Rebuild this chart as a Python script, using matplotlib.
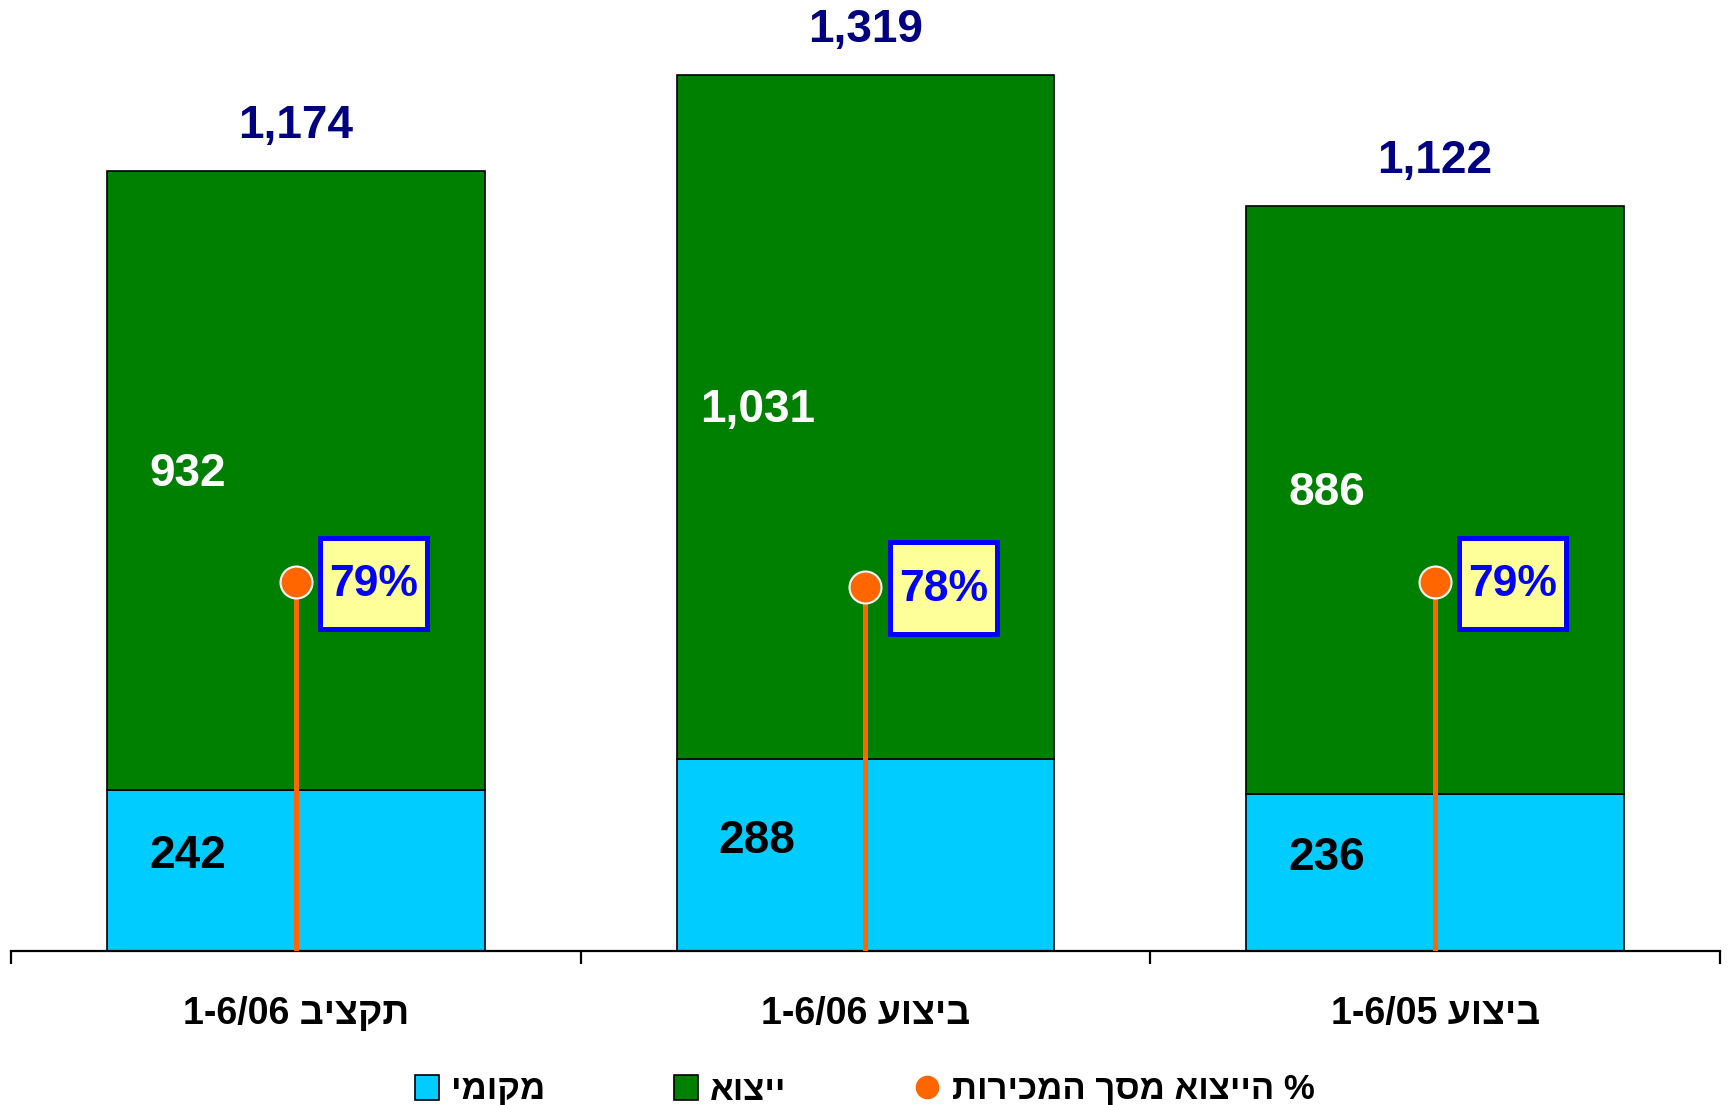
import matplotlib
matplotlib.use("Agg")
import matplotlib.pyplot as plt
from matplotlib.patches import Patch, Rectangle
from matplotlib.lines import Line2D
from matplotlib import transforms

plt.rcParams['font.family'] = ['Liberation Sans', 'DejaVu Sans']
plt.rcParams['font.weight'] = 'bold'

# ---- data ----
categories = ["תקציב 1-6/06", "ביצוע 1-6/06", "ביצוע 1-6/05"]
local_vals = [242, 288, 236]
export_vals = [932, 1031, 886]
totals = [1174, 1319, 1122]
export_share = [0.79, 0.78, 0.79]
legend_labels = ["מקומי", "ייצוא", "% הייצוא מסך המכירות"]

C_LOCAL = "#00CCFF"
C_EXPORT = "#008000"
C_TOTAL = "#000080"
C_DOT = "#FF6600"


def visual(s):
    """Convert logical RTL text to visual (left-to-right) order."""
    words = s.split(" ")[::-1]
    out = []
    for w in words:
        if any('\u0590' <= ch <= '\u05FF' for ch in w):
            out.append(w[::-1])
        else:
            out.append(w)
    return " ".join(out)


W, H = 1729, 1105
fig = plt.figure(figsize=(W / 100, H / 100), dpi=100)
base_px = 950.5
ax = fig.add_axes([11 / W, 1 - base_px / H, (1720 - 11) / W, base_px / H])
ax.set_xlim(-0.5, 2.5)
ax.set_ylim(0, base_px / 0.6636)

x = list(range(len(categories)))
bw = 0.663
ax.bar(x, local_vals, bw, color=C_LOCAL, edgecolor="black", linewidth=1.2, zorder=2)
ax.bar(x, export_vals, bw, bottom=local_vals, color=C_EXPORT, edgecolor="black",
       linewidth=1.2, zorder=2)

for i in x:
    ax.annotate(f"{local_vals[i]:,}", (i - 0.19, local_vals[i] / 2), xytext=(0, 10),
                textcoords="offset points", color="black", fontsize=33, fontweight="bold",
                ha="center", va="center", zorder=3)
    ax.annotate(f"{export_vals[i]:,}", (i - 0.19, local_vals[i] + export_vals[i] / 2),
                xytext=(0, 5), textcoords="offset points", color="white", fontsize=33,
                fontweight="bold", ha="center", va="center", zorder=3)
    ax.annotate(f"{totals[i]:,}", (i, totals[i]), xytext=(0, 24), textcoords="offset points",
                color=C_TOTAL, fontsize=33, fontweight="bold", ha="center", va="baseline")

for s in ["top", "left", "right"]:
    ax.spines[s].set_visible(False)
ax.spines["bottom"].set_linewidth(1.6)
ax.set_yticks([])
ax.set_xticks(x)
ax.set_xticklabels([visual(c) for c in categories], fontsize=27, fontweight="bold")
ax.tick_params(axis="x", which="major", length=0, pad=33)
ax.set_xticks([-0.5, 0.5, 1.5, 2.5], minor=True)
ax.tick_params(axis="x", which="minor", length=9, width=1.6, direction="out")

# secondary axis for export share
ax2 = ax.twinx()
ax2.set_ylim(0, base_px / 466.5)
ax2.set_yticks([])
for s in ["top", "left", "right", "bottom"]:
    ax2.spines[s].set_visible(False)
ax2.vlines(x, 0, export_share, color=C_DOT, linewidth=3.6, zorder=3)
ax2.plot(x, export_share, linestyle="none", marker="o", markersize=23,
         markerfacecolor=C_DOT, markeredgecolor="white", markeredgewidth=1.5, zorder=4)

pt = transforms.Affine2D().scale(fig.dpi / 72.0)
for i in x:
    tr = pt + transforms.ScaledTranslation(i, export_share[i], ax2.transData)
    bx_w, bx_h = 77, 66
    cx, cy = 56, -1
    ax2.add_patch(Rectangle((cx - bx_w / 2, cy - bx_h / 2), bx_w, bx_h, transform=tr,
                            facecolor="#FFFF99", edgecolor="#0000FF", linewidth=3.6,
                            zorder=5, clip_on=False))
    ax2.annotate(f"{round(export_share[i] * 100)}%", (i, export_share[i]),
                 xytext=(cx, cy - 1), textcoords="offset points", ha="center", va="center",
                 color="#0000FF", fontsize=32, fontweight="bold", zorder=6)

handles = [
    Patch(facecolor=C_LOCAL, edgecolor="black", linewidth=1.2),
    Patch(facecolor=C_EXPORT, edgecolor="black", linewidth=1.2),
    Line2D([], [], linestyle="none", marker="o", markersize=16, markerfacecolor=C_DOT,
           markeredgecolor=C_DOT),
]
fig.legend(handles, [visual(l) for l in legend_labels], loc="center",
           bbox_to_anchor=(0.5, 1 - 1090 / H), ncol=3, frameon=False,
           prop={"size": 25, "weight": "bold"}, handlelength=0.7, handleheight=0.7,
           handletextpad=0.35, columnspacing=3.7, borderaxespad=0)

fig.savefig("out.png", dpi=100)
